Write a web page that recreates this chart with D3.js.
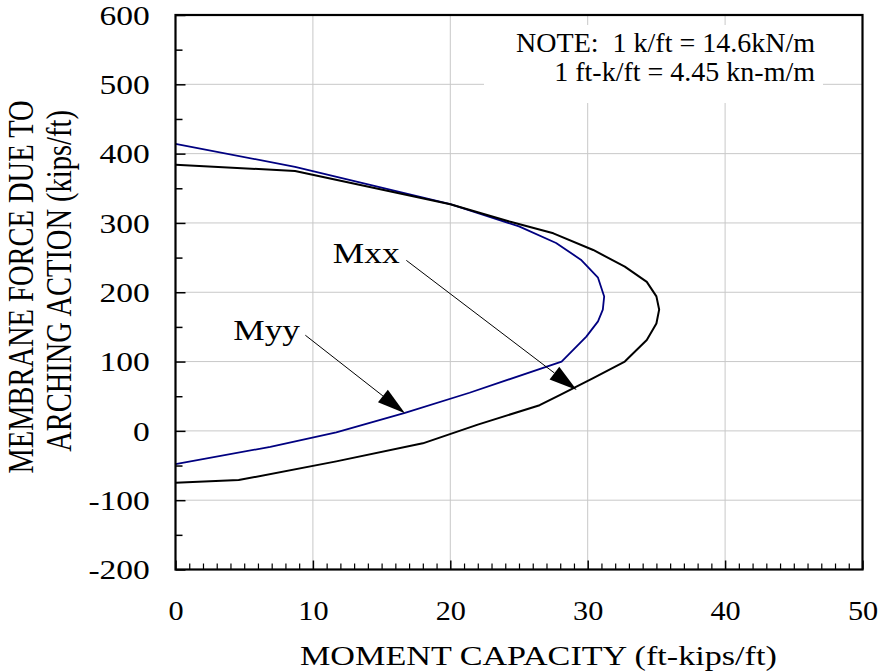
<!DOCTYPE html>
<html>
<head>
<meta charset="utf-8">
<script src="https://cdn.jsdelivr.net/npm/d3@7"></script>
<style>
  body { margin: 0; background: #fff; }
  svg { display: block; }
  text { font-family: "Liberation Serif", "Times New Roman", serif; fill: #000; }
</style>
</head>
<body>
<div id="app"></div>
<script>
(function (d3) {

  'use strict'

  // Mxx curve (black): moment capacity (ft-kips/ft) vs membrane force (kips/ft)
  const mxxMoment = [0, 4.6, 11.7, 18, 22, 26.5, 28, 30.4, 32.7, 34.3, 35.0, 35.2, 35.0, 34.3, 32.7, 30.4, 27.5, 24.3, 20, 8.7, 0]
  const mxxForce  = [-75, -71, -44, -18, 9, 37, 52, 76, 100, 131, 155, 175, 194, 215, 237, 261, 285, 302, 327, 375, 384]

  // Myy curve (navy)
  const myyMoment = [0, 6.9, 11.7, 16.7, 21.4, 28.1, 29.9, 30.75, 31.1, 31.2, 30.75, 29.5, 27.7, 25.0, 20, 8.7, 0]
  const myyForce  = [-48, -23, -2, 26, 55, 100, 136, 158, 175, 194, 221, 247, 271, 295, 327, 381, 414]

  const momentTicks = [0, 10, 20, 30, 40, 50]
  const forceTicks = [-200, -100, 0, 100, 200, 300, 400, 500, 600]

  const noteLines = ['NOTE:  1 k/ft = 14.6kN/m', '1 ft-k/ft = 4.45 kn-m/m']

  // annotation arrows: label anchor, line start, arrow tip (data units)
  const callouts = [
    { label: 'Mxx', at: [11.45, 242], from: [16.8, 246], to: [29.2, 59] },
    { label: 'Myy', at: [4.2, 131], from: [9.45, 138], to: [16.7, 25.5] }
  ]

  const W = 878
  const H = 671
  const left = 175.5, right = 862.5, top = 15, bottom = 569.5
  const stretch = 1.22

  const x = d3.scaleLinear().domain([0, 50]).range([left, right])
  const y = d3.scaleLinear().domain([-200, 600]).range([bottom, top])

  const svg = d3.select('#app')
    .append('svg')
    .attr('width', W)
    .attr('height', H)

  // gridlines
  svg.append('g')
    .selectAll('line')
    .data(momentTicks.slice(1, -1))
    .enter()
    .append('line')
    .attr('x1', d => x(d)).attr('x2', d => x(d))
    .attr('y1', top).attr('y2', bottom)
    .attr('stroke', '#c8c8c8')
    .attr('stroke-width', 1)

  svg.append('g')
    .selectAll('line')
    .data(forceTicks.slice(1, -1))
    .enter()
    .append('line')
    .attr('x1', left).attr('x2', right)
    .attr('y1', d => y(d)).attr('y2', d => y(d))
    .attr('stroke', '#c8c8c8')
    .attr('stroke-width', 1)

  // note box
  svg.append('rect')
    .attr('x', 484).attr('y', 25)
    .attr('width', 339).attr('height', 78)
    .attr('fill', '#fff')

  svg.append('g')
    .selectAll('text')
    .data(noteLines)
    .enter()
    .append('text')
    .attr('x', 815)
    .attr('y', (d, i) => 52 + i * 29)
    .attr('text-anchor', 'end')
    .attr('font-size', 28)
    .style('white-space', 'pre')
    .text(d => d)

  // curves
  const line = d3.line()
    .x(d => x(d[0]))
    .y(d => y(d[1]))

  svg.append('path')
    .datum(d3.zip(myyMoment, myyForce))
    .attr('d', line)
    .attr('fill', 'none')
    .attr('stroke', '#000080')
    .attr('stroke-width', 1.8)
    .attr('stroke-linejoin', 'round')

  svg.append('path')
    .datum(d3.zip(mxxMoment, mxxForce))
    .attr('d', line)
    .attr('fill', 'none')
    .attr('stroke', '#000')
    .attr('stroke-width', 2)
    .attr('stroke-linejoin', 'round')

  // callouts
  const arrowLen = 28, arrowHalf = 8
  callouts.forEach(function (c) {
    const x1 = x(c.from[0]), y1 = y(c.from[1])
    const x2 = x(c.to[0]), y2 = y(c.to[1])
    const a = Math.atan2(y2 - y1, x2 - x1)
    const bx = x2 - arrowLen * Math.cos(a), by = y2 - arrowLen * Math.sin(a)
    svg.append('line')
      .attr('x1', x1).attr('y1', y1)
      .attr('x2', bx).attr('y2', by)
      .attr('stroke', '#000')
      .attr('stroke-width', 1)
    svg.append('polygon')
      .attr('points', [
        [x2, y2],
        [bx - arrowHalf * Math.sin(a), by + arrowHalf * Math.cos(a)],
        [bx + arrowHalf * Math.sin(a), by - arrowHalf * Math.cos(a)]
      ].map(p => p.join(',')).join(' '))
      .attr('fill', '#000')
    svg.append('text')
      .attr('transform', 'translate(' + x(c.at[0]) + ',' + y(c.at[1]) + ') scale(' + stretch + ',1)')
      .attr('font-size', 29)
      .text(c.label)
  })

  // axes (ticks point inward)
  const yAxis = svg.append('g')
    .attr('transform', 'translate(' + left + ',0)')
    .call(d3.axisLeft(y).tickValues(forceTicks).tickSize(-10).tickPadding(21).tickFormat(d => String(d)))
  yAxis.select('.domain').remove()
  yAxis.selectAll('line').attr('stroke', '#000').attr('stroke-width', 1.5)
  yAxis.selectAll('text')
    .attr('font-size', 27.5)
    .attr('font-family', null)
    .attr('dy', '0.34em')
    .attr('transform', 'scale(' + stretch + ',1)')

  const yMinor = svg.append('g')
    .attr('transform', 'translate(' + left + ',0)')
    .call(d3.axisLeft(y).tickValues(d3.range(-150, 600, 100)).tickSize(-7).tickFormat(''))
  yMinor.select('.domain').remove()
  yMinor.selectAll('line').attr('stroke', '#000').attr('stroke-width', 1.5)

  const xAxis = svg.append('g')
    .attr('transform', 'translate(0,' + bottom + ')')
    .call(d3.axisBottom(x).tickValues(momentTicks).tickSize(-9).tickFormat(d => String(d)))
  xAxis.select('.domain').remove()
  xAxis.selectAll('line').attr('stroke', '#000').attr('stroke-width', 1.5)
  xAxis.selectAll('text')
    .attr('font-size', 27.5)
    .attr('font-family', null)
    .attr('y', 51)
    .attr('dy', null)
    .attr('transform', 'scale(1.1,1)')

  const xMinor = svg.append('g')
    .attr('transform', 'translate(0,' + bottom + ')')
    .call(d3.axisBottom(x).tickValues(d3.range(1, 50).filter(d => d % 10 !== 0)).tickSize(-6).tickFormat(''))
  xMinor.select('.domain').remove()
  xMinor.selectAll('line').attr('stroke', '#000').attr('stroke-width', 1.2)

  // frame
  svg.append('rect')
    .attr('x', left).attr('y', top)
    .attr('width', right - left).attr('height', bottom - top)
    .attr('fill', 'none')
    .attr('stroke', '#000')
    .attr('stroke-width', 2.2)

  // axis titles
  svg.append('text')
    .attr('transform', 'translate(300,665) scale(' + stretch + ',1)')
    .attr('font-size', 28)
    .text('MOMENT CAPACITY (ft-kips/ft)')

  svg.append('g')
    .selectAll('text')
    .data(['MEMBRANE FORCE DUE TO', 'ARCHING ACTION (kips/ft)'])
    .enter()
    .append('text')
    .attr('transform', (d, i) => 'translate(' + (33 + i * 38) + ',' + (287 - i * 6) + ') rotate(-90) scale(1,' + stretch + ')')
    .attr('text-anchor', 'middle')
    .attr('font-size', 28.5)
    .text(d => d)

}(d3))
</script>
</body>
</html>
